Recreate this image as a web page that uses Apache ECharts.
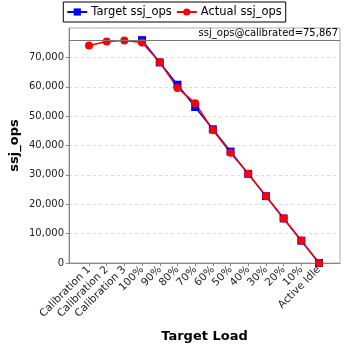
<!DOCTYPE html>
<html><head><meta charset="utf-8">
<script src="https://cdn.jsdelivr.net/npm/echarts@6/dist/echarts.min.js"></script>
<style>html,body{margin:0;padding:0;background:#fff}#c{width:348px;height:348px}</style>
</head><body><div id="c"></div>
<script>
var categories = ['Calibration 1','Calibration 2','Calibration 3','100%','90%','80%','70%','60%','50%','40%','30%','20%','10%','Active Idle'];
var targetOps = [null,null,null,75867,68280,60694,53107,45520,37934,30347,22760,15173,7587,0];
var actualOps = [74060,75420,75760,75080,68300,59600,54420,45280,37490,30380,22800,15140,7690,0];
var calibrated = 75867;

var font = 'DejaVu Sans';
var chart = echarts.init(document.getElementById('c'));
chart.setOption({
  animation:false,
  backgroundColor:'#fff',
  textStyle:{fontFamily:font},
  legend:{
    top:2, left:'center',
    data:['Target ssj_ops','Actual ssj_ops'],
    borderColor:'#000', borderWidth:1, padding:[4,4,4,3],
    itemWidth:20, itemHeight:9, itemGap:4,
    textStyle:{fontFamily:font,fontSize:11.5,color:'#000',padding:[0,0,0,-1]}
  },
  grid:[
    {left:68,right:8,top:28,bottom:85,show:true,borderColor:'#aaa',borderWidth:1,backgroundColor:'#fff'},
    {left:89,right:29,top:28,bottom:85}
  ],
  xAxis:[
    {gridIndex:0,type:'category',data:categories,boundaryGap:true,
     axisLine:{show:true,lineStyle:{color:'#888'}},axisTick:{show:false},axisLabel:{show:false},splitLine:{show:false},
     name:'Target Load',nameLocation:'middle',nameGap:67,nameMoveOverlap:false,
     nameTextStyle:{fontFamily:font,fontSize:13,fontWeight:'bold',color:'#000'}},
    {gridIndex:1,type:'category',data:categories,boundaryGap:false,
     axisLine:{show:false},axisTick:{show:true,length:3,lineStyle:{color:'#888'},alignWithLabel:true},
     axisLabel:{rotate:45,fontSize:10.5,color:'#222',margin:5,fontFamily:font,interval:0},splitLine:{show:false}}
  ],
  yAxis:[
    {gridIndex:0,type:'value',min:0,max:80000,interval:10000,
     axisLine:{show:true,lineStyle:{color:'#888'}},axisTick:{show:true,length:3,lineStyle:{color:'#888'}},
     axisLabel:{fontSize:10,color:'#222',margin:5,fontFamily:font,showMaxLabel:false,
       formatter:function(v){return v.toLocaleString('en-US');}},
     splitLine:{show:true,lineStyle:{color:'#ddd',type:[3,3]}},
     name:'ssj_ops',nameLocation:'middle',nameGap:48,nameMoveOverlap:false,
     nameTextStyle:{fontFamily:font,fontSize:13,fontWeight:'bold',color:'#000'}},
    {gridIndex:1,type:'value',min:0,max:80000,interval:10000,show:false,splitLine:{show:false}}
  ],
  series:[
    {name:'calib',type:'line',xAxisIndex:0,yAxisIndex:0,data:[],silent:true,
     markLine:{silent:true,symbol:'none',
       lineStyle:{color:'#777',width:1.2,type:'solid'},
       label:{show:true,position:'insideEndTop',distance:[2,2],fontSize:10,color:'#000',fontFamily:font,
         formatter:'ssj_ops@calibrated=' + calibrated.toLocaleString('en-US')},
       data:[{yAxis:calibrated}]}},
    {name:'Target ssj_ops',type:'line',xAxisIndex:1,yAxisIndex:1,data:targetOps,
     symbol:'rect',symbolSize:8,itemStyle:{color:'#0000ff'},lineStyle:{color:'#0000ff',width:1.5},connectNulls:false},
    {name:'Actual ssj_ops',type:'line',xAxisIndex:1,yAxisIndex:1,data:actualOps,
     symbol:'circle',symbolSize:8,itemStyle:{color:'#ff0000'},lineStyle:{color:'#ff0000',width:1.5}}
  ]
});
</script></body></html>
